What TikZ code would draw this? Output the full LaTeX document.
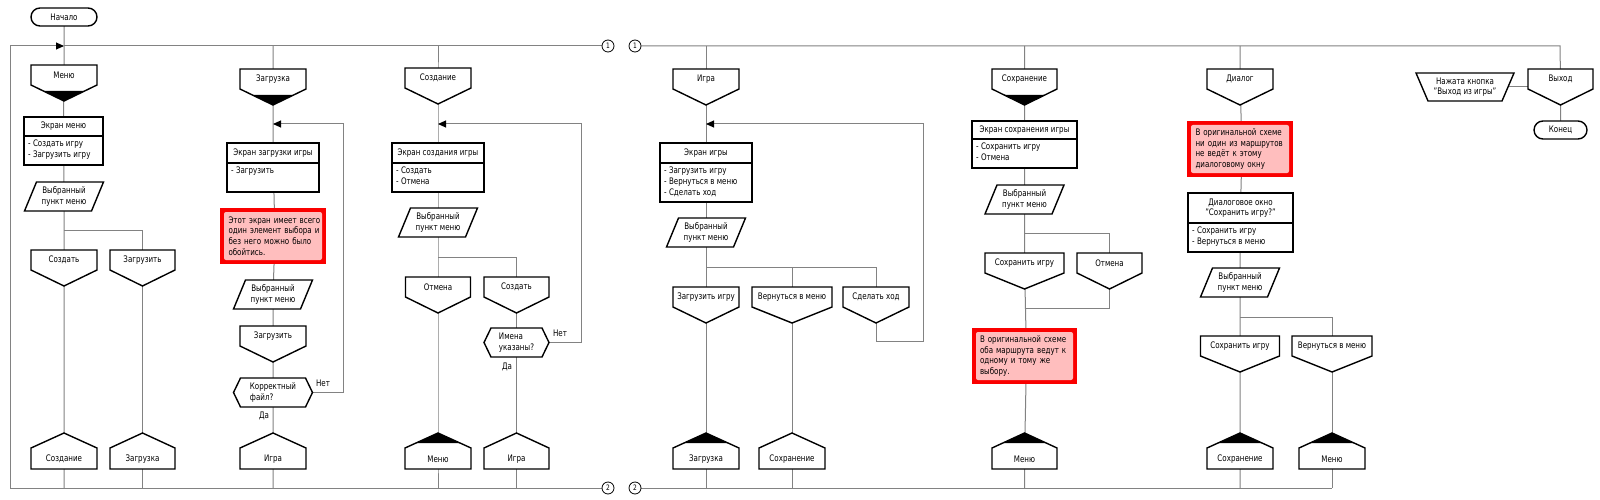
\documentclass[tikz,border=0pt]{standalone}
\usepackage{fontspec}
\setmainfont[FakeStretch=0.79]{DejaVu Sans}
\usetikzlibrary{arrows.meta}
\pgfdeclarelayer{back}
\pgfdeclarelayer{bg}
\pgfsetlayers{back,bg,main}
\definecolor{lgray}{RGB}{130,130,130}
\definecolor{nred}{RGB}{250,0,0}
\definecolor{npink}{RGB}{255,190,190}
\newcommand\fs{\fontsize{9}{10.6}\selectfont}
\tikzset{
 ln/.style={draw=lgray, line width=1pt},
 shp/.style={draw=black, fill=white, line width=1.4pt, line join=miter},
 txt/.style={inner sep=0pt, font=\fs, align=center},
 arr/.style={-{Triangle[length=8pt,width=7pt,color=black]}},
 term/.style={draw=black, fill=white, line width=1.4pt, rounded corners=9pt, minimum height=18pt, inner sep=0pt, font=\fs},
 circ/.style={draw=black, fill=white, circle, line width=0.8pt, minimum size=12pt, inner sep=0pt, font=\fontsize{7.5}{7.5}\selectfont},
}
% header: name, x, ytop, width, text, black
\newcommand\hdr[6]{%
  \path[shp] (#2-#4/2,#3) -- (#2+#4/2,#3) -- (#2+#4/2,#3+20) -- (#2,#3+36) -- (#2-#4/2,#3+20) -- cycle;
  \ifnum#6=1 \fill (#2-#4*0.3125,#3+26) -- (#2+#4*0.3125,#3+26) -- (#2,#3+36) -- cycle;\fi
  \node[txt] (#1) at (#2,#3+10) {#5};
  \coordinate (#1-t) at (#2,#3+36);
}
% address: name, x, width, text, black
\newcommand\adr[5]{%
  \path[shp] (#2,433) -- (#2+#3/2,448) -- (#2+#3/2,469) -- (#2-#3/2,469) -- (#2-#3/2,448) -- cycle;
  \ifnum#5=1 \fill (#2,433) -- (#2+#3/3,443) -- (#2-#3/3,443) -- cycle;\fi
  \node[txt] (#1) at (#2,459) {#4};
}
% screen: name, xl, xr, yt, ydiv, yb, title, items
\newcommand\scr[8]{%
  \path[shp] (#2,#4) rectangle (#3,#6);
  \draw[line width=1.4pt] (#2,#5) -- (#3,#5);
  \node[txt] (#1) at ({(#2+#3)/2},{(#4+#5)/2}) {#7};
  \node[txt, align=left, anchor=north west] (#1-i) at (#2+4,#5+4) {#8};
}
% parallelogram: name, x, ytop
\newcommand\prl[3]{%
  \path[shp] (#2-27.5,#3) -- (#2+39.5,#3) -- (#2+27.5,#3+29) -- (#2-39.5,#3+29) -- cycle;
  \node[txt] (#1) at (#2,#3+14.5) {Выбранный\\пункт меню};
}
% question: name, x, ytop, width, text
\newcommand\hexq[5]{%
  \path[shp] (#2-#4/2,#3+14.5) -- (#2-#4/2+7,#3) -- (#2+#4/2-7,#3) -- (#2+#4/2,#3+14.5) -- (#2+#4/2-7,#3+29) -- (#2-#4/2+7,#3+29) -- cycle;
  \node[txt, align=left] (#1) at (#2,#3+14.5) {#5};
  \coordinate (#1-e) at (#2+#4/2,#3+14.5);
}
% red note: name, x, width, yt, yb, text
\newcommand\rnote[6]{%
  \fill[nred] (#2-#3/2,#4) rectangle (#2+#3/2,#5);
  \fill[npink, rounded corners=2pt] (#2-#3/2+4,#4+4) rectangle (#2+#3/2-4,#5-4);
  \node[txt, align=left, text width=93pt] (#1) at (#2+2,{(#4+#5)/2}) {#6};
}
\begin{document}
\begin{tikzpicture}[x=1pt,y=-1pt]
\begin{pgfonlayer}{back}
\fill[white] (0,0) rectangle (1600,500);
\end{pgfonlayer}
\useasboundingbox (0,0) rectangle (1600,500);
% ---------- coordinates
\coordinate (tl) at (10,46);
\coordinate (bl) at (10,488);
\coordinate (j1) at (64,46);
\coordinate (t2) at (273,46);
\coordinate (t3) at (438,46);
\coordinate (tr) at (1560,46);
\coordinate (br) at (1332,488);
\coordinate (j2) at (273,124);
\coordinate (lp2) at (343,124);
\coordinate (j3) at (438,124);
\coordinate (lp3) at (581,124);
\coordinate (j4) at (706,124);
\coordinate (lp4a) at (923,341);
\coordinate (lp4b) at (923,124);
\coordinate (fk1) at (64,230);
\coordinate (fk3) at (438,257);
\coordinate (fk4) at (706,267);
\coordinate (fk5) at (1024.5,233);
\coordinate (mg5) at (1024.5,308);
\coordinate (fk6) at (1240,317);
% ---------- terminals and circles
\node[term, minimum width=66pt] (start) at (64,17) {Начало};
\node[term, minimum width=53pt] (end) at (1560.5,130) {Конец};
\node[circ] (c1a) at (608,46) {1};
\node[circ] (c1b) at (635,46) {1};
\node[circ] (c2a) at (608,488) {2};
\node[circ] (c2b) at (635,488) {2};
% ---------- column 1
\hdr{hMenu}{64}{65}{66}{Меню}{1}
\scr{s1}{24}{103}{117}{136}{165}{Экран меню}{- Создать игру\\- Загрузить игру}
\prl{p1}{64}{182}
\hdr{hC1}{64}{250}{66}{Создать}{0}
\hdr{hL1}{142.5}{250}{65}{Загрузить}{0}
\adr{aCreate}{64}{66}{Создание}{0}
\adr{aLoad}{142.5}{65}{Загрузка}{0}
% ---------- column 2
\hdr{hLoad0}{273}{69}{66}{Загрузка}{1}
\scr{s2}{227}{319}{143}{163}{192}{Экран загрузки игры}{- Загрузить}
\rnote{n1}{273}{106}{208}{264}{Этот экран имеет всего\\один элемент выбора и\\без него можно было\\обойтись.}
\prl{p2}{273}{280}
\hdr{hLd2}{273}{326}{66}{Загрузить}{0}
\hexq{qK}{273}{378}{79}{Корректный\\файл?}
\adr{aGame2}{273}{66}{Игра}{0}
\node[txt] (no1) at (323,383) {Нет};
\node[txt] (yes1) at (264,416) {Да};
% ---------- column 3
\hdr{hCreate0}{438}{68}{66}{Создание}{0}
\scr{s3}{392}{484}{143}{163}{192}{Экран создания игры}{- Создать\\- Отмена}
\prl{p3}{438}{208}
\hdr{hCan3}{438}{277}{65}{Отмена}{0}
\hdr{hCr3}{516.5}{277}{65}{Создать}{0}
\hexq{qN}{516.5}{328}{65}{Имена\\указаны?}
\adr{aMenu3}{438}{66}{Меню}{1}
\adr{aGame3}{516.5}{65}{Игра}{0}
\node[txt] (no2) at (560,333) {Нет};
\node[txt] (yes2) at (507,367) {Да};
% ---------- Игра
\hdr{hGame}{706}{69}{66}{Игра}{0}
\scr{s4}{660}{752}{143}{163}{202}{Экран игры}{- Загрузить игру\\- Вернуться в меню\\- Сделать ход}
\prl{p4}{706}{218}
\hdr{hLG}{706}{287}{66}{Загрузить игру}{0}
\hdr{hBk}{792}{287}{80}{Вернуться в меню}{0}
\hdr{hMv}{876}{287}{66}{Сделать ход}{0}
\adr{aLoadG}{706}{66}{Загрузка}{1}
\adr{aSaveG}{792}{66}{Сохранение}{0}
% ---------- Сохранение
\hdr{hSave}{1024.5}{69}{65}{Сохранение}{1}
\scr{s5}{972}{1077}{121}{139}{168}{Экран сохранения игры}{- Сохранить игру\\- Отмена}
\prl{p5}{1024.5}{185}
\hdr{hSG}{1024.5}{253}{79}{Сохранить игру}{0}
\hdr{hCnS}{1109.5}{253}{65}{Отмена}{0}
\rnote{n2}{1024.5}{105}{328}{384}{В оригинальной схеме\\оба маршрута ведут к\\одному и тому же\\выбору.}
\adr{aMenuS}{1024.5}{65}{Меню}{1}
% ---------- Диалог
\hdr{hDlg}{1240}{69}{66}{Диалог}{0}
\rnote{n3}{1240}{106}{121}{177}{В оригинальной схеме\\ни один из маршрутов\\не ведёт к этому\\диалоговому окну}
\scr{s6}{1188}{1293}{193}{223}{252}{Диалоговое окно\\"Сохранить игру?"}{- Сохранить игру\\- Вернуться в меню}
\prl{p6}{1240}{268}
\hdr{hSD}{1240}{336}{79}{Сохранить игру}{0}
\hdr{hBD}{1332}{336}{80}{Вернуться в меню}{0}
\adr{aSaveD}{1240}{66}{Сохранение}{1}
\adr{aMenuD}{1332}{66}{Меню}{1}
% ---------- Выход
\hdr{hExit}{1560.5}{69}{65}{Выход}{0}
\path[shp] (1416,73) -- (1514,73) -- (1502,101) -- (1428,101) -- cycle;
\node[txt] (trap) at (1465,87) {Нажата кнопка\\"Выход из игры"};
% ---------- connectors
\begin{pgfonlayer}{bg}
\draw[ln] (start.center) -- (hMenu.center) -- (s1.center) -- (p1.center) -- (hC1.center) -- (aCreate.center) -- (aCreate.center |- bl);
\draw[ln] (fk1) -| (hL1.center);
\draw[ln] (hL1.center) -- (aLoad.center) -- (aLoad.center |- bl);
\draw[ln] (j1) -- (c1a);
\draw[ln] (bl) -- (c2a);
\draw[ln] (c1b) -- (tr) -- (hExit.center) -- (end.center);
\draw[ln] (c2b) -- (br);
% col 2
\draw[ln] (t2) -- (hLoad0.center) -- (s2.center) -- (n1.center) -- (p2.center) -- (hLd2.center) -- (qK.center) -- (aGame2.center) -- (aGame2.center |- bl);
% col 3
\draw[ln] (t3) -- (hCreate0.center) -- (s3.center) -- (p3.center) -- (hCan3.center) -- (aMenu3.center) -- (aMenu3.center |- bl);
\draw[ln] (fk3) -| (hCr3.center);
\draw[ln] (hCr3.center) -- (qN.center) -- (aGame3.center) -- (aGame3.center |- bl);
% Игра
\draw[ln] (hGame.center |- tl) -- (hGame.center) -- (s4.center) -- (p4.center) -- (hLG.center) -- (aLoadG.center) -- (aLoadG.center |- bl);
\draw[ln] (fk4) -| (hBk.center);
\draw[ln] (fk4) -| (hMv.center);
\draw[ln] (hBk.center) -- (aSaveG.center) -- (aSaveG.center |- bl);
% Сохранение
\draw[ln] (hSave.center |- tl) -- (hSave.center) -- (s5.center) -- (p5.center) -- (hSG.center) -- (n2.center) -- (aMenuS.center) -- (aMenuS.center |- bl);
\draw[ln] (fk5) -| (hCnS.center);
\draw[ln] (hCnS-t) |- (mg5);
% Диалог
\draw[ln] (hDlg.center |- tl) -- (hDlg.center) -- (n3.center) -- (s6.center) -- (p6.center) -- (hSD.center) -- (aSaveD.center) -- (aSaveD.center |- bl);
\draw[ln] (fk6) -| (hBD.center);
\draw[ln] (hBD.center) -- (aMenuD.center) -- (aMenuD.center |- bl);
% Выход
\draw[ln] (trap.center) -- (trap.center -| hExit.center);
% loops with arrows
\draw[ln,arr] (bl) -- (tl) -- (j1);
\draw[ln,arr] (qK-e) -| (lp2) -- (j2);
\draw[ln,arr] (qN-e) -| (lp3) -- (j3);
\draw[ln,arr] (hMv-t) |- (lp4a) -- (lp4b) -- (j4);
\end{pgfonlayer}
\end{tikzpicture}
\end{document}
